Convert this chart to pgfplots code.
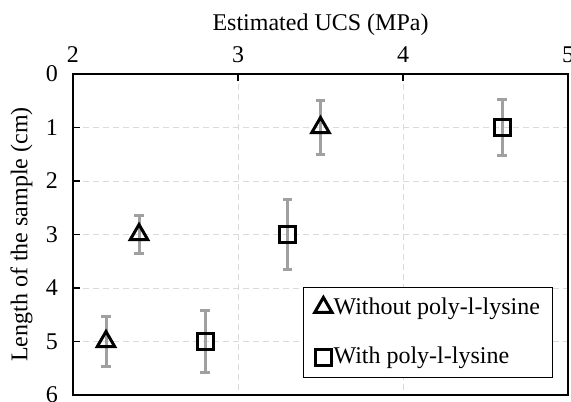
\documentclass[border=0pt]{standalone}
\usepackage{fontspec}
\setmainfont{Liberation Serif}
\usepackage{pgfplots}
\pgfplotsset{compat=1.18}
\usepackage{pgfplotstable}
\definecolor{errgray}{HTML}{A0A0A0}
\definecolor{gridgray}{HTML}{DADADA}
\pgfplotstableread{
x y e
2.2 5 0.46
2.4 3 0.36
3.5 1 0.50
}\without
\pgfplotstableread{
x y e
2.8 5 0.58
3.3 3 0.65
4.6 1 0.53
}\withp
\begin{document}
\begin{tikzpicture}
\begin{axis}[
  at={(0,0)}, anchor=south west,
  scale only axis, width=247.5pt, height=160.5pt,
  xmin=2, xmax=5, ymin=0, ymax=6, y dir=reverse,
  xtick={2,3,4,5}, ytick={0,1,2,3,4,5,6},
  xtick pos=top, xticklabel pos=top, ytick pos=left,
  tick align=inside, major tick length=3.5pt,
  tick style={black, line width=0.8pt},
  axis line style={black, line width=0.8pt},
  grid=major,
  major grid style={gridgray, dash pattern=on 3pt off 2pt, line width=0.5pt},
  xlabel={Estimated UCS (MPa)}, ylabel={Length of the sample (cm)},
  label style={font=\fontsize{12}{14}\selectfont},
  xlabel style={at={(axis description cs:0.5,1.137)}, anchor=base},
  ylabel style={at={(axis description cs:-0.1273,0.5)}, anchor=north, inner sep=0pt},
  tick label style={font=\fontsize{12}{14}\selectfont},
  yticklabel style={xshift=-4pt},
  xticklabel style={yshift=2.3pt},
  /pgf/number format/assume math mode=true,
  legend style={at={(1,0)}, anchor=south east, xshift=-7.5pt, yshift=8.5pt,
    draw=black, line width=0.6pt, font=\fontsize{12}{14}\selectfont,
    row sep=13.5pt, column sep=0pt, inner xsep=5.5pt, inner ysep=4.5pt,
    nodes={inner sep=0.75pt}},
  legend cell align=left,
  legend image code/.code={\draw[#1] plot coordinates {(0pt,0pt)};},
]
\addplot[only marks, mark=triangle, mark size=5pt,
  mark options={draw=black, fill=white, line width=1.5pt},
  error bars/.cd, y dir=both, y explicit,
  error bar style={errgray, line width=1.5pt},
  error mark options={errgray, rotate=90, mark size=2.3pt, line width=1.5pt}]
  table[x=x, y=y, y error=e] {\without};
\addplot[only marks, mark=square, mark size=4pt,
  mark options={draw=black, fill=white, line width=1.5pt},
  error bars/.cd, y dir=both, y explicit,
  error bar style={errgray, line width=1.5pt},
  error mark options={errgray, rotate=90, mark size=2.3pt, line width=1.5pt}]
  table[x=x, y=y, y error=e] {\withp};
\legend{Without poly-l-lysine, With poly-l-lysine}
\end{axis}
\pgfresetboundingbox
\useasboundingbox (-36.5pt,-3pt) rectangle (249pt,197.5pt);
\end{tikzpicture}
\end{document}
